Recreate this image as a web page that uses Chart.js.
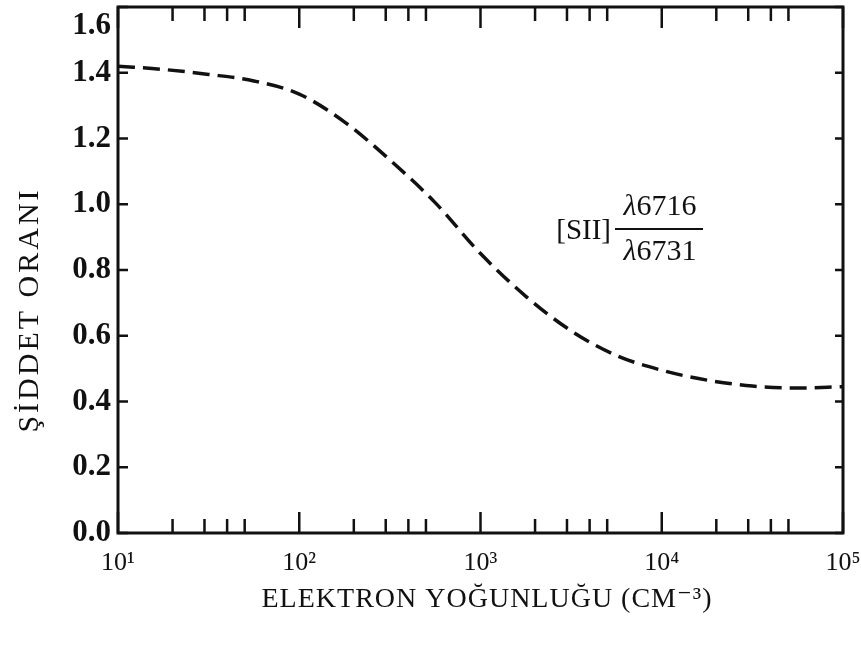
<!DOCTYPE html>
<html>
<head>
<meta charset="utf-8">
<script src="https://cdn.jsdelivr.net/npm/chart.js@4/dist/chart.umd.min.js"></script>
<style>
    body { margin: 0; background: #fff; }
    canvas { display: block; }
</style>
</head>
<body>
<canvas id="densityChart" width="861" height="646"></canvas>
<script>
// =========================
// DATA ([SII] 6716/6731 ratio vs electron density)
// =========================

const density = [10, 17.8, 31.6, 56.2, 100, 178, 316, 562, 1000, 1778, 3162, 5623, 10000, 17783, 31623, 56234, 100000];
const ratio = [1.42, 1.41, 1.395, 1.375, 1.335, 1.25, 1.135, 1.005, 0.85, 0.72, 0.615, 0.54, 0.495, 0.465, 0.447, 0.441, 0.445];

const decades = [10, 100, 1000, 10000, 100000];
const decadeLabels = ["10\u00B9", "10\u00B2", "10\u00B3", "10\u2074", "10\u2075"];
const minorSteps = [2, 3, 4, 5];
const yTicks = [0, 0.2, 0.4, 0.6, 0.8, 1.0, 1.2, 1.4, 1.6];

const serif = "'Liberation Serif', 'DejaVu Serif', serif";

// lambda in italics, digits upright, centred on cx
function lambdaText(ctx, digits, cx, cy) {
    ctx.font = "italic 30px " + serif;
    const wl = ctx.measureText("\u03BB").width;
    ctx.font = "30px " + serif;
    const wd = ctx.measureText(digits).width;
    const x0 = cx - (wl + wd) / 2;
    ctx.textAlign = "left";
    ctx.font = "italic 30px " + serif;
    ctx.fillText("\u03BB", x0, cy);
    ctx.font = "30px " + serif;
    ctx.fillText(digits, x0 + wl, cy);
}

// frame, inward ticks, titles and the ratio label
const framePlugin = {
    id: "frame",
    afterDraw(chart) {
        const { ctx, chartArea: a, scales: { x, y } } = chart;
        ctx.save();
        ctx.strokeStyle = "#111";
        ctx.lineWidth = 3;
        ctx.strokeRect(a.left, a.top, a.right - a.left, a.bottom - a.top);

        ctx.lineWidth = 2.5;
        ctx.beginPath();
        decades.forEach(d => {
            const px = x.getPixelForValue(d);
            ctx.moveTo(px, a.bottom); ctx.lineTo(px, a.bottom - 21);
            ctx.moveTo(px, a.top); ctx.lineTo(px, a.top + 21);
            if (d < 100000) {
                minorSteps.forEach(m => {
                    const mx = x.getPixelForValue(d * m);
                    ctx.moveTo(mx, a.bottom); ctx.lineTo(mx, a.bottom - 14);
                    ctx.moveTo(mx, a.top); ctx.lineTo(mx, a.top + 14);
                });
            }
        });
        yTicks.forEach(v => {
            const py = y.getPixelForValue(v);
            ctx.moveTo(a.left, py); ctx.lineTo(a.left + 10, py);
            ctx.moveTo(a.right, py); ctx.lineTo(a.right - 8, py);
        });
        ctx.stroke();

        ctx.fillStyle = "#111";
        ctx.textAlign = "center";
        ctx.textBaseline = "middle";

        // x title
        ctx.font = "28px " + serif;
        ctx.letterSpacing = "1px";
        ctx.fillText("ELEKTRON YO\u011EUNLU\u011EU (CM\u207B\u00B3)", 487, 600);

        // y title
        ctx.save();
        ctx.font = "30px " + serif;
        ctx.letterSpacing = "3px";
        ctx.translate(30, 310);
        ctx.rotate(-Math.PI / 2);
        ctx.fillText("\u015E\u0130DDET ORANI", 0, 0);
        ctx.restore();

        // [SII] label
        ctx.letterSpacing = "0px";
        ctx.font = "29px " + serif;
        ctx.textAlign = "right";
        ctx.fillText("[SII]", 611, 231);
        lambdaText(ctx, "6716", 660, 207);
        lambdaText(ctx, "6731", 660, 252);
        ctx.lineWidth = 2;
        ctx.beginPath();
        ctx.moveTo(615, 229);
        ctx.lineTo(703, 229);
        ctx.stroke();
        ctx.restore();
    }
};

const chartEl = document.getElementById("densityChart");

new Chart(chartEl, {
    type: "line",
    data: {
        datasets: [{
            label: "[SII] 6716/6731",
            data: density.map((d, i) => ({ x: d, y: ratio[i] })),
            borderColor: "#111",
            borderWidth: 3.5,
            borderDash: [17, 8],
            pointRadius: 0,
            fill: false,
            cubicInterpolationMode: "monotone"
        }]
    },
    options: {
        responsive: false,
        animation: false,
        devicePixelRatio: 1,
        layout: {
            padding: { left: 0, top: 7, right: 18, bottom: 0 }
        },
        plugins: {
            legend: { display: false },
            tooltip: { enabled: false }
        },
        scales: {
            x: {
                type: "logarithmic",
                min: 10,
                max: 100000,
                grid: { display: false, drawTicks: false },
                border: { display: false },
                afterBuildTicks: scale => {
                    scale.ticks = decades.map(v => ({ value: v }));
                },
                afterFit: scale => {
                    scale.height = 113;
                    scale.paddingLeft = 0;
                    scale.paddingRight = 0;
                },
                ticks: {
                    autoSkip: false,
                    maxRotation: 0,
                    padding: 15,
                    color: "#111",
                    font: { family: serif, size: 26 },
                    callback: (v) => decadeLabels[decades.indexOf(v)] ?? ""
                }
            },
            y: {
                min: 0,
                max: 1.6,
                grid: { display: false, drawTicks: false },
                border: { display: false },
                afterBuildTicks: scale => {
                    scale.ticks = yTicks.map(v => ({ value: v }));
                },
                afterFit: scale => {
                    scale.width = 118;
                    scale.paddingTop = 0;
                    scale.paddingBottom = 0;
                },
                ticks: {
                    autoSkip: false,
                    padding: 7,
                    color: "#111",
                    font: { family: serif, size: 31, weight: "bold" },
                    // top label sits a bit lower, like the original
                    callback: (v) => v >= 1.6 ? ["", v.toFixed(1)] : v.toFixed(1)
                }
            }
        }
    },
    plugins: [framePlugin]
});
</script>
</body>
</html>
